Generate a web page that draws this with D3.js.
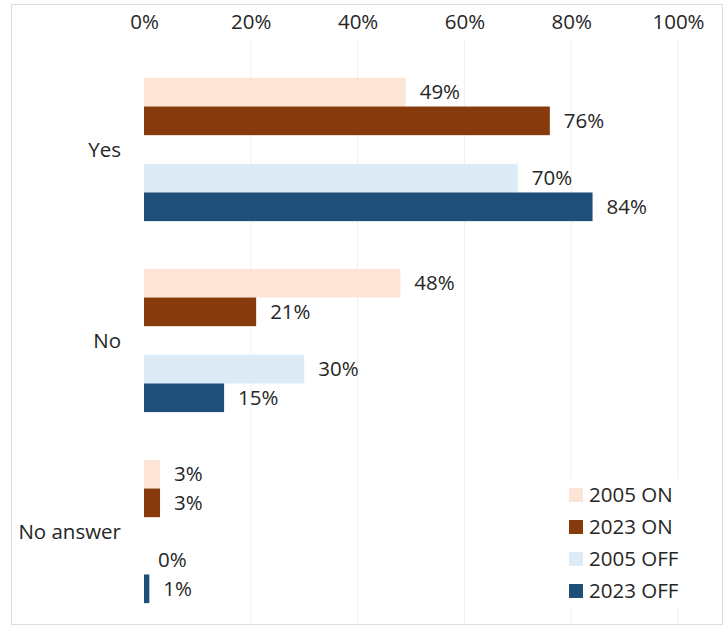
<!DOCTYPE html>
<html>
<head>
<meta charset="utf-8">
<script src="https://cdn.jsdelivr.net/npm/d3@7"></script>
<style>
  html, body { margin: 0; padding: 0; background: #ffffff; }
  svg { display: block; font-family: "Open Sans", "DejaVu Sans", sans-serif; }
</style>
</head>
<body>
<svg id="chart" width="727" height="626"></svg>
<script>
// Survey answers by group, share of respondents
const categories = ["Yes", "No", "No answer"];
const seriesNames = ["2005 ON", "2023 ON", "2005 OFF", "2023 OFF"];
const on2005  = [0.49, 0.48, 0.03];
const on2023  = [0.76, 0.21, 0.03];
const off2005 = [0.70, 0.30, 0.00];
const off2023 = [0.84, 0.15, 0.01];
const tickValues = [0, 0.2, 0.4, 0.6, 0.8, 1.0];
const colors = ["#FCE4D6", "#873B0D", "#DDEBF7", "#1F4E79"];

const seriesValues = [on2005, on2023, off2005, off2023];

const svg = d3.select("#chart");
const textColor = "#262626";
const fontSize = 20.5;

// outer frame
svg.append("rect")
  .attr("x", 11.5).attr("y", 4.5)
  .attr("width", 711).attr("height", 620)
  .attr("fill", "#ffffff")
  .attr("stroke", "#DDDDDD");

const x = d3.scaleLinear().domain([0, 1]).range([144, 678]);

const y = d3.scaleBand()
  .domain(categories)
  .range([54, 627])
  .paddingInner(0.25)
  .paddingOuter(0.125);

// slots inside each category: two ON bars, an empty slot, two OFF bars
const slots = ["2005 ON", "2023 ON", "gap", "2005 OFF", "2023 OFF"];
const inner = d3.scaleBand().domain(slots).range([0, y.bandwidth()]);

// vertical gridlines
svg.append("g")
  .selectAll("line")
  .data(tickValues.filter(d => d > 0))
  .join("line")
  .attr("x1", d => x(d)).attr("x2", d => x(d))
  .attr("y1", 40).attr("y2", 624)
  .attr("stroke", "#EFEFEF")
  .attr("stroke-width", 1);

// top axis
const xAxis = d3.axisTop(x)
  .tickValues(tickValues)
  .tickFormat(d3.format(".0%"))
  .tickSize(0)
  .tickPadding(0);

const axisG = svg.append("g")
  .attr("transform", "translate(0,29)")
  .call(xAxis);
axisG.select(".domain").remove();
axisG.selectAll("text")
  .attr("font-size", fontSize)
  .attr("fill", textColor)
  .attr("font-family", "\"Open Sans\", sans-serif")
  .attr("dy", "0");

// category labels
svg.append("g")
  .selectAll("text")
  .data(categories)
  .join("text")
  .attr("x", 121)
  .attr("y", d => y(d) + y.bandwidth() / 2)
  .attr("dy", "0.35em")
  .attr("text-anchor", "end")
  .attr("font-size", fontSize)
  .attr("fill", textColor)
  .text(d => d);

// bars and value labels
const rows = [];
seriesNames.forEach((s, si) => {
  categories.forEach((c, ci) => {
    rows.push({ series: s, cat: c, value: seriesValues[si][ci], color: colors[si] });
  });
});

const barG = svg.append("g");
barG.selectAll("rect")
  .data(rows)
  .join("rect")
  .attr("x", x(0))
  .attr("y", d => y(d.cat) + inner(d.series))
  .attr("width", d => x(d.value) - x(0))
  .attr("height", inner.bandwidth())
  .attr("fill", d => d.color);

barG.selectAll("text")
  .data(rows)
  .join("text")
  .attr("x", d => x(d.value) + 14)
  .attr("y", d => y(d.cat) + inner(d.series) + inner.bandwidth() / 2)
  .attr("dy", "0.35em")
  .attr("font-size", fontSize)
  .attr("fill", textColor)
  .text(d => d3.format(".0%")(d.value));

// legend
const legend = svg.append("g").attr("transform", "translate(562,478)");
legend.append("rect")
  .attr("x", 0).attr("y", 0)
  .attr("width", 135).attr("height", 130)
  .attr("fill", "#ffffff");
const item = legend.selectAll("g.item")
  .data(seriesNames)
  .join("g")
  .attr("class", "item")
  .attr("transform", (d, i) => `translate(0,${17 + i * 32})`);
item.append("rect")
  .attr("x", 7).attr("y", -7)
  .attr("width", 14).attr("height", 14)
  .attr("fill", (d, i) => colors[i]);
item.append("text")
  .attr("x", 27)
  .attr("y", 0)
  .attr("dy", "0.35em")
  .attr("font-size", fontSize)
  .attr("fill", textColor)
  .text(d => d);
</script>
</body>
</html>
